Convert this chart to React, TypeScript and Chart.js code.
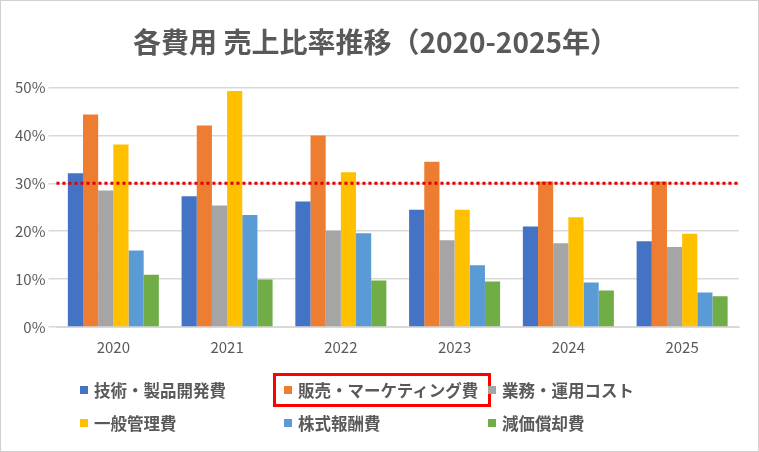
import React, { useEffect, useRef } from "react";
import { Chart, registerables } from "chart.js";
Chart.register(...registerables);

const years = ["2020", "2021", "2022", "2023", "2024", "2025"];
const seriesNames = ["技術・製品開発費", "販売・マーケティング費", "業務・運用コスト", "一般管理費", "株式報酬費", "減価償却費"];
const colors = ["#4472C4", "#ED7D31", "#A5A5A5", "#FFC000", "#5B9BD5", "#70AD47"];
const rd = [32.1, 27.3, 26.2, 24.5, 21.0, 17.9];
const sm = [44.4, 42.1, 40.0, 34.5, 30.4, 30.4];
const ops = [28.5, 25.4, 20.1, 18.1, 17.5, 16.7];
const ga = [38.1, 49.3, 32.3, 24.5, 22.9, 19.5];
const sbc = [16.0, 23.4, 19.6, 12.9, 9.3, 7.2];
const dep = [10.9, 9.9, 9.7, 9.5, 7.6, 6.4];
const threshold = 30;
const font = "'Noto Sans CJK JP', 'Noto Sans', sans-serif";

export default function App() {
  const ref = useRef<HTMLCanvasElement>(null);
  useEffect(() => {
    document.body.style.margin = "0";
    const values = [rd, sm, ops, ga, sbc, dep];
    const thresholdPlugin = {
      id: "thr",
      afterDatasetsDraw(chart: any) {
        const y = chart.scales.y.getPixelForValue(threshold);
        const { left, right } = chart.chartArea;
        const c = chart.ctx;
        c.save();
        c.strokeStyle = "#E00000";
        c.lineWidth = 3;
        c.setLineDash([3, 3]);
        c.beginPath();
        c.moveTo(left, y);
        c.lineTo(right, y);
        c.stroke();
        c.restore();
      },
    };
    const chart = new Chart(ref.current!, {
      type: "bar",
      data: {
        labels: years,
        datasets: values.map((v, i) => ({
          label: seriesNames[i],
          data: v,
          backgroundColor: colors[i],
          categoryPercentage: 0.8,
          barPercentage: 1,
        })),
      },
      options: {
        animation: false,
        responsive: false,
        layout: { padding: { left: 12, right: 20, top: 10, bottom: 93 } },
        plugins: {
          legend: { display: false },
          tooltip: { enabled: false },
          title: {
            display: true,
            text: "各費用 売上比率推移（2020-2025年）",
            color: "#595959",
            font: { family: font, size: 28, weight: "bold" },
            padding: { top: 16, bottom: 28 },
          },
        },
        scales: {
          x: {
            grid: { display: false },
            border: { color: "#D9D9D9" },
            ticks: { color: "#595959", font: { family: font, size: 15 } },
          },
          y: {
            min: 0,
            max: 50,
            ticks: { stepSize: 10, color: "#595959", font: { family: font, size: 15 }, callback: (v: any) => v + "%" },
            grid: { color: "#D9D9D9", lineWidth: 1.5 },
            border: { display: false },
          },
        },
      },
      plugins: [thresholdPlugin],
    });
    return () => chart.destroy();
  }, []);

  const legendPos = [
    [80, 390], [284, 390], [488, 390],
    [80, 423], [284, 423], [488, 423],
  ];
  return (
    <div style={{ position: "relative", width: 759, height: 452, fontFamily: font }}>
      <canvas ref={ref} width={759} height={452} style={{ position: "absolute", left: 0, top: 0 }} />
      <div style={{ position: "absolute", left: 0, top: 0, width: 757, height: 450, border: "1px solid #D0D0D0", pointerEvents: "none" }} />
      <div style={{ position: "absolute", left: 273, top: 373, width: 218, height: 34, border: "3px solid #FF0000", boxSizing: "border-box" }} />
      {seriesNames.map((n, i) => (
        <div key={n} style={{ position: "absolute", left: legendPos[i][0], top: legendPos[i][1] - 12, display: "flex", alignItems: "center", fontSize: 16.5, fontWeight: "bold", color: "#595959", whiteSpace: "nowrap", lineHeight: "24px" }}>
          <span style={{ display: "inline-block", width: 8, height: 8, background: colors[i], marginRight: 6 }} />
          {n}
        </div>
      ))}
    </div>
  );
}
